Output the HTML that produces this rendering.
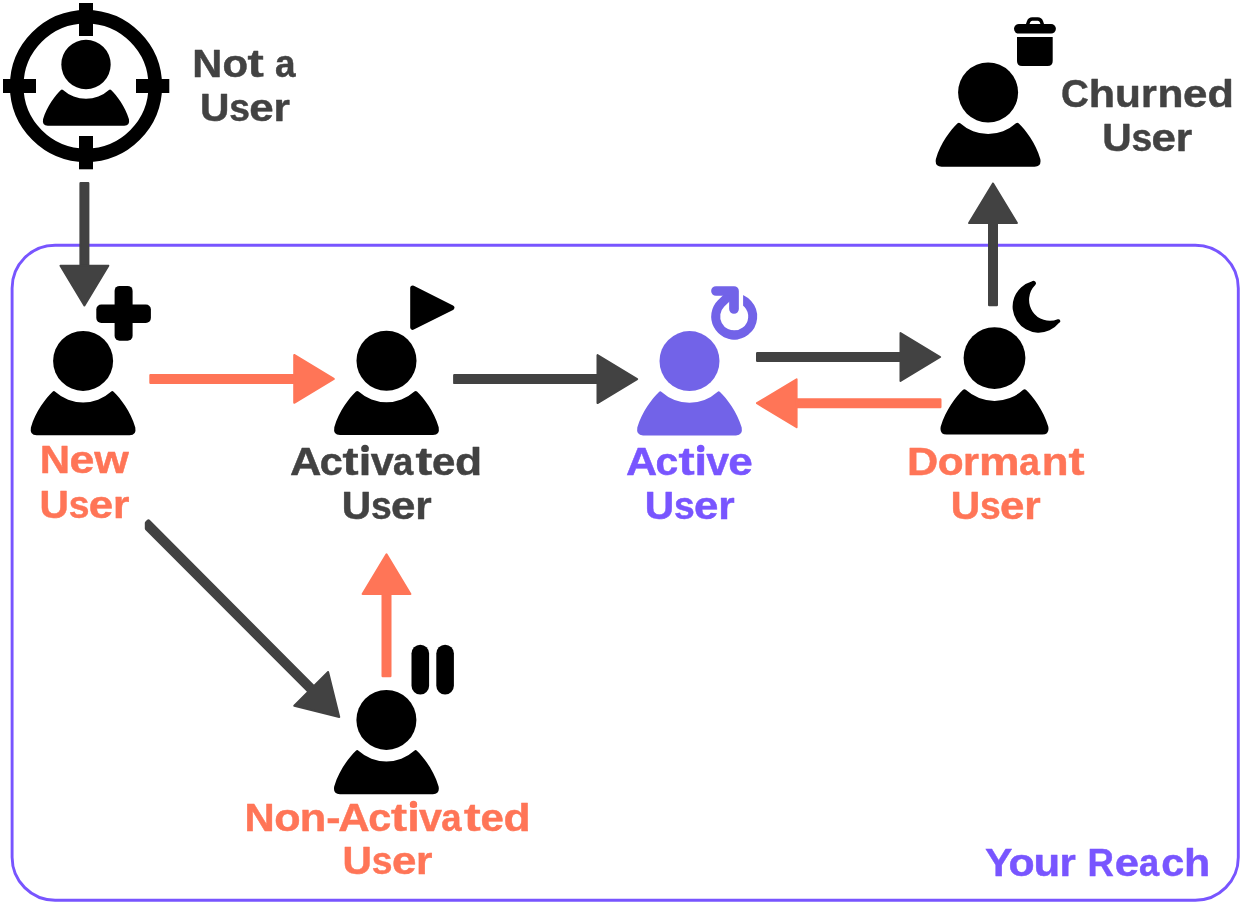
<!DOCTYPE html>
<html><head><meta charset="utf-8"><title>User Lifecycle</title>
<style>
html,body{margin:0;padding:0;background:#fff;}
body{width:1242px;height:904px;overflow:hidden;font-family:"Liberation Sans",sans-serif;}
svg{display:block;}
</style></head>
<body>
<svg width="1242" height="904" viewBox="0 0 1242 904">
<rect width="1242" height="904" fill="#fff"/>
<rect x="12.1" y="245.2" width="1226.2" height="655.0" rx="43" ry="43" fill="none" stroke="#7855ff" stroke-width="2.9"/>
<circle cx="86" cy="86" r="69.3" fill="none" stroke="#000" stroke-width="13.6"/>
<rect x="79" y="3" width="14" height="33" fill="#000"/>
<rect x="79" y="136" width="14" height="33.3" fill="#000"/>
<rect x="3" y="79" width="33" height="14" fill="#000"/>
<rect x="136" y="79" width="33.3" height="14" fill="#000"/>
<g transform="translate(86,64.55) scale(0.823)" fill="#000"><circle r="30"/><path d="M-27.89,30.86 Q-29.2,29.6 -30.5,30.84 C-37.3,37.4 -47.5,50.5 -52.2,66.5 Q-53.6,74.3 -46.5,74.3 L46.5,74.3 Q53.6,74.3 52.2,66.5 C47.5,50.5 37.3,37.4 30.5,30.84 Q29.2,29.6 27.89,30.86 A41.6,41.6 0 0 1 -27.89,30.86 Z"/></g>
<g transform="translate(83.1,360.9) scale(1.0)" fill="#000"><circle r="30"/><path d="M-27.89,30.86 Q-29.2,29.6 -30.5,30.84 C-37.3,37.4 -47.5,50.5 -52.2,66.5 Q-53.6,74.3 -46.5,74.3 L46.5,74.3 Q53.6,74.3 52.2,66.5 C47.5,50.5 37.3,37.4 30.5,30.84 Q29.2,29.6 27.89,30.86 A41.6,41.6 0 0 1 -27.89,30.86 Z"/></g>
<g transform="translate(386.5,360.7) scale(1.0)" fill="#000"><circle r="30"/><path d="M-27.89,30.86 Q-29.2,29.6 -30.5,30.84 C-37.3,37.4 -47.5,50.5 -52.2,66.5 Q-53.6,74.3 -46.5,74.3 L46.5,74.3 Q53.6,74.3 52.2,66.5 C47.5,50.5 37.3,37.4 30.5,30.84 Q29.2,29.6 27.89,30.86 A41.6,41.6 0 0 1 -27.89,30.86 Z"/></g>
<g transform="translate(689.5,361.1) scale(1.0)" fill="#7263e8"><circle r="30"/><path d="M-27.89,30.86 Q-29.2,29.6 -30.5,30.84 C-37.3,37.4 -47.5,50.5 -52.2,66.5 Q-53.6,74.3 -46.5,74.3 L46.5,74.3 Q53.6,74.3 52.2,66.5 C47.5,50.5 37.3,37.4 30.5,30.84 Q29.2,29.6 27.89,30.86 A41.6,41.6 0 0 1 -27.89,30.86 Z"/></g>
<g transform="translate(994.5,358.05) scale(1.03)" fill="#000"><circle r="30"/><path d="M-27.89,30.86 Q-29.2,29.6 -30.5,30.84 C-37.3,37.4 -47.5,50.5 -52.2,66.5 Q-53.6,74.3 -46.5,74.3 L46.5,74.3 Q53.6,74.3 52.2,66.5 C47.5,50.5 37.3,37.4 30.5,30.84 Q29.2,29.6 27.89,30.86 A41.6,41.6 0 0 1 -27.89,30.86 Z"/></g>
<g transform="translate(988.1,92.5) scale(1.0)" fill="#000"><circle r="30"/><path d="M-27.89,30.86 Q-29.2,29.6 -30.5,30.84 C-37.3,37.4 -47.5,50.5 -52.2,66.5 Q-53.6,74.3 -46.5,74.3 L46.5,74.3 Q53.6,74.3 52.2,66.5 C47.5,50.5 37.3,37.4 30.5,30.84 Q29.2,29.6 27.89,30.86 A41.6,41.6 0 0 1 -27.89,30.86 Z"/></g>
<g transform="translate(386.4,719.9) scale(1.0)" fill="#000"><circle r="30"/><path d="M-27.89,30.86 Q-29.2,29.6 -30.5,30.84 C-37.3,37.4 -47.5,50.5 -52.2,66.5 Q-53.6,74.3 -46.5,74.3 L46.5,74.3 Q53.6,74.3 52.2,66.5 C47.5,50.5 37.3,37.4 30.5,30.84 Q29.2,29.6 27.89,30.86 A41.6,41.6 0 0 1 -27.89,30.86 Z"/></g>
<rect x="96.3" y="304.5" width="54.6" height="18.5" rx="5" fill="#000"/>
<rect x="114.6" y="285.9" width="18" height="54.8" rx="5" fill="#000"/>
<path d="M412.7,288.1 L451.9,307.7 L412.7,327.3 Z" fill="#000" stroke="#000" stroke-width="5" stroke-linejoin="round"/>
<rect x="411.5" y="644.7" width="17.6" height="49.8" rx="8.8" fill="#000"/>
<rect x="436.3" y="644.7" width="17.6" height="49.8" rx="8.8" fill="#000"/>
<clipPath id="rclip"><rect x="743.1" y="280" width="30" height="36.5"/><rect x="700" y="316.5" width="80" height="40"/></clipPath><path d="M734.20,298.00 A18.5,18.5 0 1 1 730.99,334.72" stroke="#7263e8" stroke-width="9.0" fill="none" clip-path="url(#rclip)"/><path d="M737.41,334.72 A18.5,18.5 0 0 1 721.12,303.42 L734.0,291.0" stroke="#7263e8" stroke-width="9.0" fill="none" stroke-linejoin="round"/><path d="M716.0,291.0 L734.0,291.0 L734.0,309.0" stroke="#7263e8" stroke-width="9.7" fill="none" stroke-linecap="round" stroke-linejoin="round"/>
<path d="M1031.64,281.47 A26.1,26.1 0 1 0 1059.14,322.83 A1.89,1.89 0 0 0 1057.74,319.32 A20.9,20.9 0 0 1 1035.25,285.09 A2.56,2.56 0 0 0 1031.64,281.47 Z" fill="#000"/>
<rect x="1014" y="24" width="41.9" height="9.6" rx="4.8" fill="#000"/>
<path d="M1027.4,25 L1028.6,21.6 Q1029.6,19 1032.2,19 L1037.8,19 Q1040.4,19 1041.4,21.6 L1042.6,25" fill="none" stroke="#000" stroke-width="3.4" stroke-linejoin="round"/>
<path d="M1017,37 L1052.7,37 L1052.7,60.9 Q1052.7,65.9 1047.7,65.9 L1022,65.9 Q1017,65.9 1017,60.9 Z" fill="#000"/>
<path d="M80.60,183.30 L80.60,265.50 L88.20,265.50 L88.20,183.30 Z" fill="#424242" stroke="#424242" stroke-width="2.4" stroke-linejoin="round"/>
<path d="M60.47,265.70 L84.40,305.36 L108.33,265.70 Z" fill="#424242" stroke="#424242" stroke-width="2.0" stroke-linejoin="round"/>
<path d="M150.50,382.70 L294.00,382.70 L294.00,375.10 L150.50,375.10 Z" fill="#ff7557" stroke="#ff7557" stroke-width="2.4" stroke-linejoin="round"/>
<path d="M294.20,402.83 L333.86,378.90 L294.20,354.97 Z" fill="#ff7557" stroke="#ff7557" stroke-width="2.0" stroke-linejoin="round"/>
<path d="M454.30,382.90 L597.30,382.90 L597.30,375.30 L454.30,375.30 Z" fill="#424242" stroke="#424242" stroke-width="2.4" stroke-linejoin="round"/>
<path d="M597.50,403.03 L637.16,379.10 L597.50,355.17 Z" fill="#424242" stroke="#424242" stroke-width="2.0" stroke-linejoin="round"/>
<path d="M757.20,360.80 L900.30,360.80 L900.30,353.20 L757.20,353.20 Z" fill="#424242" stroke="#424242" stroke-width="2.4" stroke-linejoin="round"/>
<path d="M900.50,380.93 L940.16,357.00 L900.50,333.07 Z" fill="#424242" stroke="#424242" stroke-width="2.0" stroke-linejoin="round"/>
<path d="M940.30,399.40 L796.80,399.40 L796.80,407.00 L940.30,407.00 Z" fill="#ff7557" stroke="#ff7557" stroke-width="2.4" stroke-linejoin="round"/>
<path d="M796.60,379.27 L756.94,403.20 L796.60,427.13 Z" fill="#ff7557" stroke="#ff7557" stroke-width="2.0" stroke-linejoin="round"/>
<path d="M996.80,305.00 L996.80,223.30 L989.20,223.30 L989.20,305.00 Z" fill="#424242" stroke="#424242" stroke-width="2.4" stroke-linejoin="round"/>
<path d="M1016.93,223.10 L993.00,183.44 L969.07,223.10 Z" fill="#424242" stroke="#424242" stroke-width="2.0" stroke-linejoin="round"/>
<path d="M390.30,676.10 L390.30,594.10 L382.70,594.10 L382.70,676.10 Z" fill="#ff7557" stroke="#ff7557" stroke-width="2.4" stroke-linejoin="round"/>
<path d="M410.43,593.90 L386.50,554.24 L362.57,593.90 Z" fill="#ff7557" stroke="#ff7557" stroke-width="2.0" stroke-linejoin="round"/>
<path d="M146.80,528.47 L146.80,522.89 L148.52,521.35 L312.61,686.06 L308.36,690.30 Z" fill="#424242" stroke="#424242" stroke-width="4.0" stroke-linejoin="round"/>
<path d="M294.27,705.81 L339.24,716.94 L328.11,671.97 Z" fill="#424242" stroke="#424242" stroke-width="2.0" stroke-linejoin="round"/>
<g font-family="Liberation Sans" font-weight="bold" font-size="38.6" stroke-width="0.45" stroke-linejoin="round" style="will-change:transform"><text y="76.8" fill="#424242" stroke="#424242"><tspan x="192.27" textLength="30.03" lengthAdjust="spacingAndGlyphs">N</tspan><tspan x="222.46" textLength="25.57" lengthAdjust="spacingAndGlyphs">o</tspan><tspan x="247.40" textLength="16.29" lengthAdjust="spacingAndGlyphs">t</tspan><tspan> </tspan><tspan x="275.02" textLength="20.55" lengthAdjust="spacingAndGlyphs">a</tspan></text>
<text y="120.8" fill="#424242" stroke="#424242"><tspan x="199.98" textLength="29.44" lengthAdjust="spacingAndGlyphs">U</tspan><tspan x="229.16" textLength="20.74" lengthAdjust="spacingAndGlyphs">s</tspan><tspan x="249.26" textLength="24.42" lengthAdjust="spacingAndGlyphs">e</tspan><tspan x="273.49" textLength="16.42" lengthAdjust="spacingAndGlyphs">r</tspan></text>
<text y="107.1" fill="#424242" stroke="#424242"><tspan x="1060.91" textLength="27.85" lengthAdjust="spacingAndGlyphs">C</tspan><tspan x="1088.69" textLength="26.33" lengthAdjust="spacingAndGlyphs">h</tspan><tspan x="1114.97" textLength="25.93" lengthAdjust="spacingAndGlyphs">u</tspan><tspan x="1141.03" textLength="15.81" lengthAdjust="spacingAndGlyphs">r</tspan><tspan x="1157.44" textLength="25.99" lengthAdjust="spacingAndGlyphs">n</tspan><tspan x="1182.99" textLength="24.42" lengthAdjust="spacingAndGlyphs">e</tspan><tspan x="1207.43" textLength="26.43" lengthAdjust="spacingAndGlyphs">d</tspan></text>
<text y="150.7" fill="#424242" stroke="#424242"><tspan x="1102.28" textLength="29.44" lengthAdjust="spacingAndGlyphs">U</tspan><tspan x="1131.46" textLength="20.74" lengthAdjust="spacingAndGlyphs">s</tspan><tspan x="1151.56" textLength="24.42" lengthAdjust="spacingAndGlyphs">e</tspan><tspan x="1175.79" textLength="16.42" lengthAdjust="spacingAndGlyphs">r</tspan></text>
<text y="472.76" fill="#ff7557" stroke="#ff7557"><tspan x="39.67" textLength="30.29" lengthAdjust="spacingAndGlyphs">N</tspan><tspan x="69.64" textLength="24.92" lengthAdjust="spacingAndGlyphs">e</tspan><tspan x="94.17" textLength="34.56" lengthAdjust="spacingAndGlyphs">w</tspan></text>
<text y="517.6" fill="#ff7557" stroke="#ff7557"><tspan x="39.53" textLength="29.44" lengthAdjust="spacingAndGlyphs">U</tspan><tspan x="68.71" textLength="20.74" lengthAdjust="spacingAndGlyphs">s</tspan><tspan x="88.81" textLength="24.42" lengthAdjust="spacingAndGlyphs">e</tspan><tspan x="113.04" textLength="16.42" lengthAdjust="spacingAndGlyphs">r</tspan></text>
<text y="474.85" fill="#424242" stroke="#424242"><tspan x="289.91" textLength="31.44" lengthAdjust="spacingAndGlyphs">A</tspan><tspan x="319.78" textLength="23.03" lengthAdjust="spacingAndGlyphs">c</tspan><tspan x="342.61" textLength="16.08" lengthAdjust="spacingAndGlyphs">t</tspan><tspan x="358.79" textLength="12.55" lengthAdjust="spacingAndGlyphs">i</tspan><tspan x="370.67" textLength="23.01" lengthAdjust="spacingAndGlyphs">v</tspan><tspan x="392.93" textLength="20.34" lengthAdjust="spacingAndGlyphs">a</tspan><tspan x="415.59" textLength="16.73" lengthAdjust="spacingAndGlyphs">t</tspan><tspan x="431.96" textLength="23.38" lengthAdjust="spacingAndGlyphs">e</tspan><tspan x="454.98" textLength="27.15" lengthAdjust="spacingAndGlyphs">d</tspan></text>
<text y="518.9" fill="#424242" stroke="#424242"><tspan x="341.73" textLength="29.44" lengthAdjust="spacingAndGlyphs">U</tspan><tspan x="370.91" textLength="20.74" lengthAdjust="spacingAndGlyphs">s</tspan><tspan x="391.01" textLength="24.42" lengthAdjust="spacingAndGlyphs">e</tspan><tspan x="415.24" textLength="16.42" lengthAdjust="spacingAndGlyphs">r</tspan></text>
<text y="474.9" fill="#7855ff" stroke="#7855ff"><tspan x="625.94" textLength="31.19" lengthAdjust="spacingAndGlyphs">A</tspan><tspan x="655.50" textLength="22.77" lengthAdjust="spacingAndGlyphs">c</tspan><tspan x="678.41" textLength="16.19" lengthAdjust="spacingAndGlyphs">t</tspan><tspan x="694.47" textLength="12.55" lengthAdjust="spacingAndGlyphs">i</tspan><tspan x="706.19" textLength="22.89" lengthAdjust="spacingAndGlyphs">v</tspan><tspan x="728.18" textLength="24.53" lengthAdjust="spacingAndGlyphs">e</tspan></text>
<text y="518.8" fill="#7855ff" stroke="#7855ff"><tspan x="644.78" textLength="29.44" lengthAdjust="spacingAndGlyphs">U</tspan><tspan x="673.96" textLength="20.74" lengthAdjust="spacingAndGlyphs">s</tspan><tspan x="694.06" textLength="24.42" lengthAdjust="spacingAndGlyphs">e</tspan><tspan x="718.29" textLength="16.42" lengthAdjust="spacingAndGlyphs">r</tspan></text>
<text y="474.8" fill="#ff7557" stroke="#ff7557"><tspan x="907.08" textLength="31.24" lengthAdjust="spacingAndGlyphs">D</tspan><tspan x="937.74" textLength="25.91" lengthAdjust="spacingAndGlyphs">o</tspan><tspan x="963.09" textLength="15.98" lengthAdjust="spacingAndGlyphs">r</tspan><tspan x="979.05" textLength="40.58" lengthAdjust="spacingAndGlyphs">m</tspan><tspan x="1019.31" textLength="20.65" lengthAdjust="spacingAndGlyphs">a</tspan><tspan x="1041.81" textLength="26.82" lengthAdjust="spacingAndGlyphs">n</tspan><tspan x="1068.51" textLength="16.08" lengthAdjust="spacingAndGlyphs">t</tspan></text>
<text y="518.8" fill="#ff7557" stroke="#ff7557"><tspan x="950.73" textLength="29.44" lengthAdjust="spacingAndGlyphs">U</tspan><tspan x="979.91" textLength="20.74" lengthAdjust="spacingAndGlyphs">s</tspan><tspan x="1000.01" textLength="24.42" lengthAdjust="spacingAndGlyphs">e</tspan><tspan x="1024.24" textLength="16.42" lengthAdjust="spacingAndGlyphs">r</tspan></text>
<text y="830.7" fill="#ff7557" stroke="#ff7557"><tspan x="244.63" textLength="30.18" lengthAdjust="spacingAndGlyphs">N</tspan><tspan x="274.32" textLength="26.33" lengthAdjust="spacingAndGlyphs">o</tspan><tspan x="299.83" textLength="26.56" lengthAdjust="spacingAndGlyphs">n</tspan><tspan x="326.22" textLength="14.30" lengthAdjust="spacingAndGlyphs">-</tspan><tspan x="338.35" textLength="31.44" lengthAdjust="spacingAndGlyphs">A</tspan><tspan x="368.22" textLength="23.03" lengthAdjust="spacingAndGlyphs">c</tspan><tspan x="391.05" textLength="16.08" lengthAdjust="spacingAndGlyphs">t</tspan><tspan x="407.23" textLength="12.55" lengthAdjust="spacingAndGlyphs">i</tspan><tspan x="419.11" textLength="23.01" lengthAdjust="spacingAndGlyphs">v</tspan><tspan x="441.37" textLength="20.34" lengthAdjust="spacingAndGlyphs">a</tspan><tspan x="464.03" textLength="16.73" lengthAdjust="spacingAndGlyphs">t</tspan><tspan x="480.40" textLength="23.38" lengthAdjust="spacingAndGlyphs">e</tspan><tspan x="503.42" textLength="27.15" lengthAdjust="spacingAndGlyphs">d</tspan></text>
<text y="874.4" fill="#ff7557" stroke="#ff7557"><tspan x="342.63" textLength="29.44" lengthAdjust="spacingAndGlyphs">U</tspan><tspan x="371.81" textLength="20.74" lengthAdjust="spacingAndGlyphs">s</tspan><tspan x="391.91" textLength="24.42" lengthAdjust="spacingAndGlyphs">e</tspan><tspan x="416.14" textLength="16.42" lengthAdjust="spacingAndGlyphs">r</tspan></text>
<text y="876.0" fill="#7855ff" stroke="#7855ff"><tspan x="984.90" textLength="27.47" lengthAdjust="spacingAndGlyphs">Y</tspan><tspan x="1008.43" textLength="26.14" lengthAdjust="spacingAndGlyphs">o</tspan><tspan x="1033.49" textLength="26.69" lengthAdjust="spacingAndGlyphs">u</tspan><tspan x="1059.54" textLength="16.29" lengthAdjust="spacingAndGlyphs">r</tspan><tspan> </tspan><tspan x="1087.57" textLength="26.44" lengthAdjust="spacingAndGlyphs">R</tspan><tspan x="1114.69" textLength="24.30" lengthAdjust="spacingAndGlyphs">e</tspan><tspan x="1138.89" textLength="20.18" lengthAdjust="spacingAndGlyphs">a</tspan><tspan x="1161.38" textLength="23.03" lengthAdjust="spacingAndGlyphs">c</tspan><tspan x="1184.04" textLength="26.30" lengthAdjust="spacingAndGlyphs">h</tspan></text></g><circle cx="365.05" cy="448.45" r="3.65" fill="#424242"/><circle cx="700.72" cy="448.50" r="3.65" fill="#7855ff"/><circle cx="413.49" cy="804.30" r="3.65" fill="#ff7557"/>
</svg>
</body></html>
